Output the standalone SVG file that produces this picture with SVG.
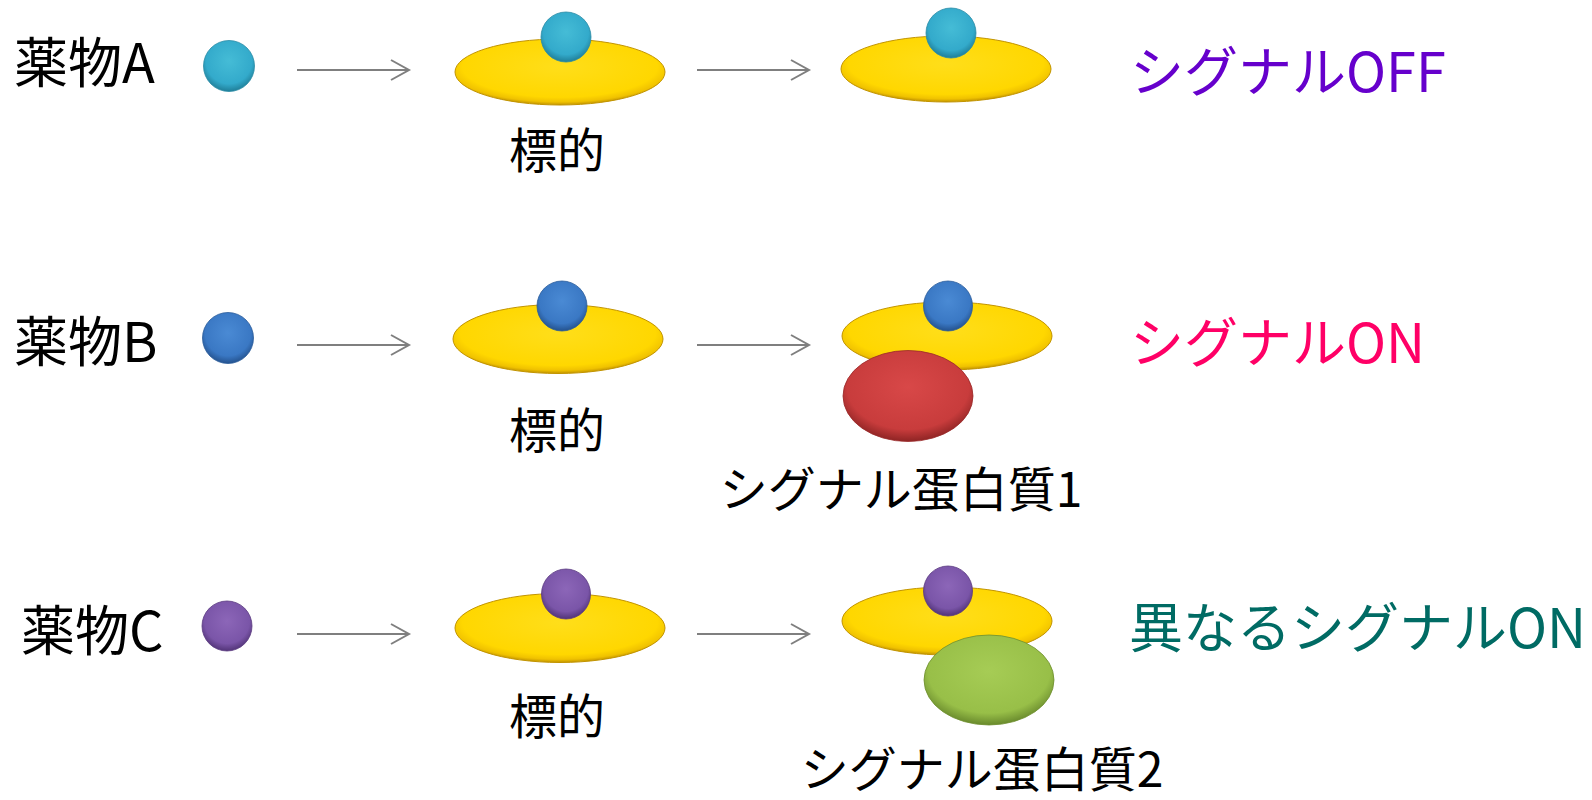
<svg xmlns="http://www.w3.org/2000/svg" width="1592" height="800" viewBox="0 0 1592 800">
  <style>
    text { font-family: "Noto Sans CJK JP", "Noto Sans", sans-serif; }
    .side { font-size: 54px; fill: #000; }
    .under { font-size: 48px; fill: #000; text-anchor: middle; }
    .off { fill: #6600CC; }
    .on { fill: #FF0066; }
    .alt { fill: #006B64; }
    .conn { stroke: #7F7F7F; stroke-width: 2; fill: none; marker-end: url(#chev); }
    .target { fill: url(#gYellow); stroke: #C29400; stroke-width: 1; }
    .cyan { fill: url(#gCyan); stroke: #2A8CA6; stroke-width: 0.8; }
    .blue { fill: url(#gBlue); stroke: #2A5C9A; stroke-width: 0.8; }
    .purple { fill: url(#gPurple); stroke: #5A3A80; stroke-width: 0.8; }
    .red { fill: url(#gRed); stroke: #9A2A2A; stroke-width: 0.8; }
    .green { fill: url(#gGreen); stroke: #6E8F2E; stroke-width: 0.8; }
  </style>
  <defs>
    <marker id="chev" markerUnits="userSpaceOnUse" markerWidth="22" markerHeight="24" refX="19" refY="11" orient="auto">
      <path d="M1,1 L19,11 L1,21" fill="none" stroke="#7F7F7F" stroke-width="2"/>
    </marker>
    <radialGradient id="gYellow" cx="50%" cy="42%" r="58%">
      <stop offset="0" stop-color="#FFDE1A"/>
      <stop offset="0.8" stop-color="#FFD700"/>
      <stop offset="0.92" stop-color="#F0C200"/>
      <stop offset="1" stop-color="#C29400"/>
    </radialGradient>
    <radialGradient id="gCyan" cx="50%" cy="40%" r="60%">
      <stop offset="0" stop-color="#45BCD6"/>
      <stop offset="0.75" stop-color="#33AACB"/>
      <stop offset="1" stop-color="#1F7E98"/>
    </radialGradient>
    <radialGradient id="gBlue" cx="50%" cy="40%" r="60%">
      <stop offset="0" stop-color="#4A8AD4"/>
      <stop offset="0.75" stop-color="#3A78C4"/>
      <stop offset="1" stop-color="#24528E"/>
    </radialGradient>
    <radialGradient id="gPurple" cx="50%" cy="40%" r="60%">
      <stop offset="0" stop-color="#8C66B8"/>
      <stop offset="0.75" stop-color="#7A55A8"/>
      <stop offset="1" stop-color="#523478"/>
    </radialGradient>
    <radialGradient id="gRed" cx="50%" cy="40%" r="60%">
      <stop offset="0" stop-color="#D84848"/>
      <stop offset="0.78" stop-color="#C83C3C"/>
      <stop offset="1" stop-color="#8E2424"/>
    </radialGradient>
    <radialGradient id="gGreen" cx="50%" cy="40%" r="60%">
      <stop offset="0" stop-color="#A6CC55"/>
      <stop offset="0.78" stop-color="#98BF48"/>
      <stop offset="1" stop-color="#68892C"/>
    </radialGradient>
  </defs>

  <rect width="1592" height="800" fill="#FFFFFF"/>

  <!-- connectors -->
  <g id="connectors">
    <line class="conn" x1="297" y1="70" x2="409" y2="70"/>
    <line class="conn" x1="697" y1="70" x2="809" y2="70"/>
    <line class="conn" x1="297" y1="345" x2="409" y2="345"/>
    <line class="conn" x1="697" y1="345" x2="809" y2="345"/>
    <line class="conn" x1="297" y1="634" x2="409" y2="634"/>
    <line class="conn" x1="697" y1="634" x2="809" y2="634"/>
  </g>

  <!-- row A -->
  <g id="drugA">
    <text class="side" x="14" y="83">薬物A</text>
    <ellipse class="cyan" cx="229" cy="66" rx="25.5" ry="25.5"/>
  </g>
  <g id="targetA">
    <ellipse class="target" cx="560" cy="72" rx="105" ry="33"/>
    <ellipse class="cyan" cx="566" cy="37" rx="25" ry="25"/>
    <text class="under" x="557" y="168">標的</text>
  </g>
  <g id="resultA">
    <ellipse class="target" cx="946" cy="69" rx="105" ry="33"/>
    <ellipse class="cyan" cx="951" cy="33" rx="25" ry="25"/>
  </g>
  <g id="stateA">
    <text class="side off" x="1130" y="92">シグナルOFF</text>
  </g>

  <!-- row B -->
  <g id="drugB">
    <text class="side" x="14" y="362">薬物B</text>
    <ellipse class="blue" cx="228" cy="338" rx="25.5" ry="25.5"/>
  </g>
  <g id="targetB">
    <ellipse class="target" cx="558" cy="339" rx="105" ry="34.5"/>
    <ellipse class="blue" cx="562" cy="306" rx="25" ry="25"/>
    <text class="under" x="557" y="448">標的</text>
  </g>
  <g id="resultB">
    <ellipse class="target" cx="947" cy="336" rx="105" ry="34"/>
    <ellipse class="blue" cx="948" cy="306" rx="24.5" ry="25"/>
    <ellipse class="red" cx="908" cy="396" rx="65" ry="45.5"/>
    <text class="under" x="901" y="507">シグナル蛋白質1</text>
  </g>
  <g id="stateB">
    <text class="side on" x="1130" y="363">シグナルON</text>
  </g>

  <!-- row C -->
  <g id="drugC">
    <text class="side" x="21" y="651">薬物C</text>
    <ellipse class="purple" cx="227" cy="626" rx="25" ry="25"/>
  </g>
  <g id="targetC">
    <ellipse class="target" cx="560" cy="628" rx="105" ry="34.5"/>
    <ellipse class="purple" cx="566" cy="594" rx="24.5" ry="25"/>
    <text class="under" x="557" y="734">標的</text>
  </g>
  <g id="resultC">
    <ellipse class="target" cx="947" cy="621" rx="105" ry="34"/>
    <ellipse class="purple" cx="948" cy="591" rx="24.5" ry="25"/>
    <ellipse class="green" cx="989" cy="680" rx="65" ry="45"/>
    <text class="under" x="982" y="787">シグナル蛋白質2</text>
  </g>
  <g id="stateC">
    <text class="side alt" x="1129" y="648">異なるシグナルON</text>
  </g>
</svg>
